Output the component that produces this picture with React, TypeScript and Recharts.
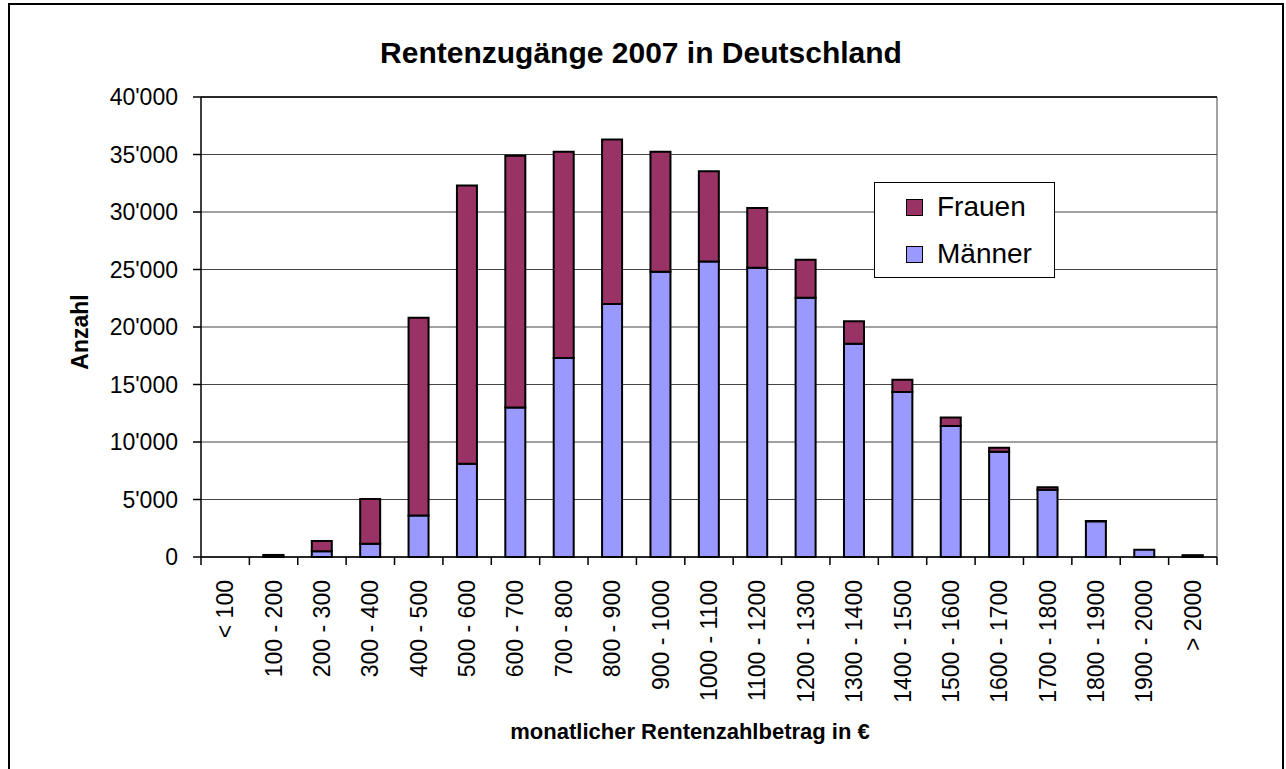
import {
  BarChart,
  Bar,
  XAxis,
  YAxis,
  CartesianGrid,
  Legend,
  ReferenceLine,
} from "recharts";

const categories = [
  "< 100",
  "100 - 200",
  "200 - 300",
  "300 - 400",
  "400 - 500",
  "500 - 600",
  "600 - 700",
  "700 - 800",
  "800 - 900",
  "900 - 1000",
  "1000 - 1100",
  "1100 - 1200",
  "1200 - 1300",
  "1300 - 1400",
  "1400 - 1500",
  "1500 - 1600",
  "1600 - 1700",
  "1700 - 1800",
  "1800 - 1900",
  "1900 - 2000",
  "> 2000",
];

const maenner = [
  0, 120, 500, 1150, 3600, 8100, 13000, 17300, 22000, 24800, 25700, 25150,
  22550, 18550, 14350, 11400, 9150, 5850, 3100, 630, 120,
];

const frauen = [
  0, 60, 900, 3900, 17200, 24200, 21900, 17950, 14300, 10450, 7850, 5200,
  3300, 1950, 1070, 730, 350, 220, 30, 0, 30,
];

const yTicks = [0, 5000, 10000, 15000, 20000, 25000, 30000, 35000, 40000];

const WIDTH = 1286;
const HEIGHT = 769;
const MARGIN = { top: 97, right: 69, left: 81, bottom: 0 };
const Y_AXIS_W = 120;
const X_AXIS_H = 212;
const PLOT_LEFT = MARGIN.left + Y_AXIS_W;
const PLOT_RIGHT = WIDTH - MARGIN.right;
const BAND = (PLOT_RIGHT - PLOT_LEFT) / categories.length;

const FONT = "'Liberation Sans', Arial, Helvetica, sans-serif";
const FRAUEN_COLOR = "#993366";
const MAENNER_COLOR = "#9999FF";

const data = categories.map((category, i) => ({
  category,
  maenner: maenner[i],
  frauen: frauen[i],
}));

function formatThousands(v: number) {
  return String(v).replace(/\B(?=(\d{3})+(?!\d))/g, "'");
}

function XTick(props: any) {
  const { x, y, payload, index } = props;
  const left = x - BAND / 2;
  const tx = x + 8;
  const ty = y + 23;
  return (
    <g>
      <line x1={left} x2={left} y1={y} y2={y + 8} stroke="#000" strokeWidth={1.5} />
      {index === categories.length - 1 && (
        <line
          x1={x + BAND / 2}
          x2={x + BAND / 2}
          y1={y}
          y2={y + 8}
          stroke="#000"
          strokeWidth={1.5}
        />
      )}
      <text
        x={tx}
        y={ty}
        transform={`rotate(-90, ${tx}, ${ty})`}
        textAnchor="end"
        fontSize={23}
        fontFamily={FONT}
        fill="#000"
      >
        {payload.value}
      </text>
    </g>
  );
}

function LegendBox() {
  const item = (label: string, color: string, top: number) => (
    <div style={{ position: "absolute", left: 31, top, height: 30 }}>
      <div
        style={{
          position: "absolute",
          left: 0,
          top: 7,
          width: 15,
          height: 15,
          background: color,
          border: "1px solid #000",
        }}
      />
      <div
        style={{
          position: "absolute",
          left: 31,
          top: 0,
          fontSize: 28,
          lineHeight: "30px",
          fontFamily: FONT,
          color: "#000",
          whiteSpace: "nowrap",
        }}
      >
        {label}
      </div>
    </div>
  );
  return (
    <div
      style={{
        position: "relative",
        width: 179,
        height: 94,
        border: "1px solid #000",
        background: "#fff",
      }}
    >
      {item("Frauen", FRAUEN_COLOR, 9)}
      {item("Männer", MAENNER_COLOR, 56)}
    </div>
  );
}

export default function App() {
  return (
    <div style={{ position: "absolute", left: 0, top: 0, width: WIDTH, height: HEIGHT, overflow: "hidden", background: "#fff" }}>
      <div
        style={{
          position: "absolute",
          left: 8,
          top: 3,
          width: 1272,
          height: 800,
          border: "2px solid #000",
        }}
      />
      <div style={{ position: "absolute", left: 0, top: 0 }}>
        <BarChart
          width={WIDTH}
          height={HEIGHT}
          data={data}
          margin={MARGIN}
          barCategoryGap="29%"
        >
          <CartesianGrid
            horizontal
            vertical
            verticalPoints={[PLOT_RIGHT]}
            stroke="#444"
            strokeWidth={1}
          />
          <ReferenceLine y={40000} stroke="#000" strokeWidth={1.5} />
          <XAxis
            dataKey="category"
            height={X_AXIS_H}
            interval={0}
            tick={<XTick />}
            tickLine={false}
            tickSize={0}
            tickMargin={0}
            axisLine={{ stroke: "#000", strokeWidth: 1.5 }}
          />
          <YAxis
            width={Y_AXIS_W}
            domain={[0, 40000]}
            ticks={yTicks}
            tickFormatter={formatThousands}
            tickSize={8}
            tickMargin={15}
            tick={{ fontSize: 23, fill: "#000", fontFamily: FONT }}
            tickLine={{ stroke: "#000", strokeWidth: 1.5 }}
            axisLine={{ stroke: "#000", strokeWidth: 1.5 }}
          />
          <Legend
            layout="horizontal"
            verticalAlign="middle"
            align="center"
            content={<LegendBox />}
            wrapperStyle={{ left: 874, top: 182, width: 181, height: 96 }}
          />
          <Bar
            dataKey="maenner"
            name="Männer"
            stackId="a"
            fill={MAENNER_COLOR}
            stroke="#000"
            strokeWidth={2}
            isAnimationActive={false}
          />
          <Bar
            dataKey="frauen"
            name="Frauen"
            stackId="a"
            fill={FRAUEN_COLOR}
            stroke="#000"
            strokeWidth={2}
            isAnimationActive={false}
          />
        </BarChart>
      </div>
      <svg
        width={WIDTH}
        height={HEIGHT}
        style={{ position: "absolute", left: 0, top: 0, pointerEvents: "none" }}
      >
        <text
          x={641}
          y={63}
          textAnchor="middle"
          fontSize={30}
          fontWeight="bold"
          fontFamily={FONT}
          fill="#000"
        >
          Rentenzugänge 2007 in Deutschland
        </text>
        <text
          x={88}
          y={332}
          transform="rotate(-90, 88, 332)"
          textAnchor="middle"
          fontSize={23}
          fontWeight="bold"
          fontFamily={FONT}
          fill="#000"
        >
          Anzahl
        </text>
        <text
          x={690}
          y={739}
          textAnchor="middle"
          fontSize={22}
          fontWeight="bold"
          fontFamily={FONT}
          fill="#000"
        >
          monatlicher Rentenzahlbetrag in €
        </text>
      </svg>
    </div>
  );
}
